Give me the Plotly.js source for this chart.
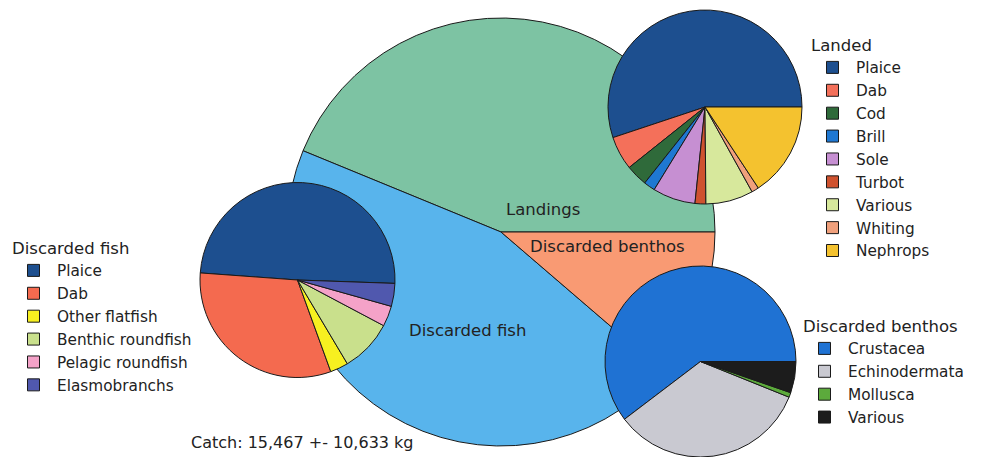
<!DOCTYPE html>
<html>
<head>
<meta charset="utf-8">
<script src="https://cdn.plot.ly/plotly-3.0.1.min.js"></script>
<style>html,body{margin:0;padding:0;background:#fff;}#chart{width:985px;height:457px;}</style>
</head>
<body>
<div id="chart"></div>
<script>
// Overall catch composition (share of catch, %)
const catchLabels = ["Landings", "Discarded fish", "Discarded benthos"];
const catchValues = [43.8, 44.9, 11.3];
const catchColors = ["#7dc3a3", "#58b4ec", "#f99a73"];

// Landed species (share, %)
const landedLabels = ["Plaice", "Dab", "Cod", "Brill", "Sole", "Turbot", "Various", "Whiting", "Nephrops"];
const landedValues = [55.0, 5.6, 3.6, 1.9, 7.1, 1.8, 7.9, 1.2, 15.7];
const landedColors = ["#1d4f8f", "#f4705a", "#2f6a3a", "#1f78d2", "#c68fd2", "#cf522f", "#d7e89c", "#f0a07c", "#f4c22f"];

// Discarded fish (share, %)
const fishLabels = ["Plaice", "Dab", "Other flatfish", "Benthic roundfish", "Pelagic roundfish", "Elasmobranchs"];
const fishValues = [49.4, 31.7, 3.0, 8.7, 3.4, 3.8];
const fishColors = ["#1d4f8f", "#f46a4f", "#f7f020", "#c9e08c", "#f4a2c8", "#5058ae"];

// Discarded benthos (share, %)
const benthosLabels = ["Crustacea", "Echinodermata", "Mollusca", "Various"];
const benthosValues = [60.4, 33.6, 0.8, 5.3];
const benthosColors = ["#1f72d3", "#c9c9d1", "#5caa3c", "#1c1c1c"];

const catchNote = "Catch: 15,467 +- 10,633 kg";

const W = 985, H = 457;
const px = x => x / W;
const py = y => 1 - y / H;
const FONT = "DejaVu Sans";
const lineStyle = {color: "#1a1a1a", width: 1};

// Plotly (counterclockwise) puts the first slice clockwise of `rotation`;
// shift so the first slice starts at the given compass angle and runs CCW.
function rot(values, startMathDeg) {
  const tot = values.reduce((a, b) => a + b, 0);
  return 90 - startMathDeg - 360 * values[0] / tot;
}
// pie labels are shared across traces by Plotly; keep each legend's entries distinct
const tag = (labels, n) => labels.map(l => l + " ".repeat(n));

const data = [
  {
    type: "pie", labels: catchLabels, values: catchValues,
    marker: {colors: catchColors, line: lineStyle},
    sort: false, direction: "counterclockwise", rotation: rot(catchValues, 0),
    textinfo: "none", hoverinfo: "label+percent", showlegend: false,
    domain: {x: [px(287), px(715)], y: [py(446), py(18)]}
  },
  {
    type: "pie", labels: landedLabels, values: landedValues,
    marker: {colors: landedColors, line: lineStyle},
    sort: false, direction: "counterclockwise", rotation: rot(landedValues, 0),
    textinfo: "none", hoverinfo: "label+percent", legend: "legend",
    domain: {x: [px(608), px(802)], y: [py(204), py(10)]}
  },
  {
    type: "pie", labels: tag(fishLabels, 1), values: fishValues,
    marker: {colors: fishColors, line: lineStyle},
    sort: false, direction: "counterclockwise", rotation: rot(fishValues, -2),
    textinfo: "none", hoverinfo: "label+percent", legend: "legend2",
    domain: {x: [px(200), px(395)], y: [py(377.5), py(182.5)]}
  },
  {
    type: "pie", labels: tag(benthosLabels, 2), values: benthosValues,
    marker: {colors: benthosColors, line: lineStyle},
    sort: false, direction: "counterclockwise", rotation: rot(benthosValues, 0),
    textinfo: "none", hoverinfo: "label+percent", legend: "legend3",
    domain: {x: [px(605), px(796)], y: [0, py(266)]}
  }
];

function legendSpec(title, x, y) {
  return {
    title: {text: title, font: {family: FONT, size: 16.5, color: "#222"}},
    font: {family: FONT, size: 15.3, color: "#222"},
    x: x, y: y, xanchor: "left", yanchor: "top", itemwidth: 37,
    bgcolor: "rgba(0,0,0,0)", borderwidth: 0, traceorder: "normal"
  };
}

const layout = {
  width: W, height: H,
  margin: {l: 0, r: 0, t: 0, b: 0},
  paper_bgcolor: "#ffffff",
  showlegend: true,
  legend: legendSpec("Landed", px(809), py(29.5)),
  legend2: legendSpec("Discarded fish", px(10), py(232.5)),
  legend3: legendSpec("Discarded benthos", px(801), py(310.5)),
  annotations: [
    {text: catchLabels[0], x: px(543), y: py(210), xref: "paper", yref: "paper", showarrow: false,
     font: {family: FONT, size: 16.5, color: "#222"}, xanchor: "center", yanchor: "middle"},
    {text: catchLabels[2], x: px(607), y: py(246), xref: "paper", yref: "paper", showarrow: false,
     font: {family: FONT, size: 16.5, color: "#222"}, xanchor: "center", yanchor: "middle"},
    {text: catchLabels[1], x: px(467), y: py(330), xref: "paper", yref: "paper", showarrow: false,
     font: {family: FONT, size: 16.5, color: "#222"}, xanchor: "center", yanchor: "middle"},
    {text: catchNote, x: px(302), y: py(442), xref: "paper", yref: "paper", showarrow: false,
     font: {family: FONT, size: 16, color: "#222"}, xanchor: "center", yanchor: "middle"}
  ]
};

Plotly.newPlot("chart", data, layout, {displayModeBar: false, staticPlot: true});
</script>
</body>
</html>
